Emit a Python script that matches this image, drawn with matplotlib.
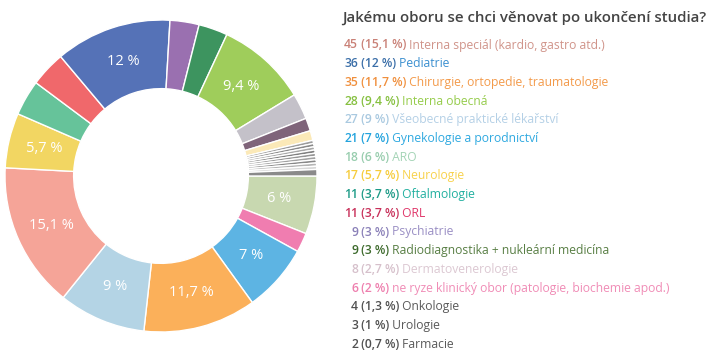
import numpy as np
import matplotlib
matplotlib.use("Agg")
import matplotlib.pyplot as plt

plt.rcParams['font.family'] = ['Open Sans', 'DejaVu Sans']

# legend order (sorted by count)
names = ["Interna speciál (kardio, gastro atd.)", "Pediatrie",
         "Chirurgie, ortopedie, traumatologie", "Interna obecná",
         "Všeobecné praktické lékařství", "Gynekologie a porodnictví", "ARO",
         "Neurologie", "Oftalmologie", "ORL", "Psychiatrie",
         "Radiodiagnostika + nukleární medicína", "Dermatovenerologie",
         "ne ryze klinický obor (patologie, biochemie apod.)", "Onkologie",
         "Urologie", "Farmacie"]
counts = [45, 36, 35, 28, 27, 21, 18, 17, 11, 11, 9, 9, 8, 6, 4, 3, 2]
num_colors = ["#c98076", "#3a6ea8", "#f08f3c", "#86c040", "#a9c9e0", "#23a3dd",
              "#98cdae", "#f6cc3c", "#1c9a86", "#c8305a", "#8a80b8", "#3d6a2c",
              "#d6c0cb", "#ee7fae", "#505050", "#505050", "#505050"]
lab_colors = ["#d0948a", "#3a8fd0", "#f39a4a", "#96cc4c", "#b4d0e6", "#2fa9e0",
              "#a4d4b6", "#f8d24c", "#22b0a0", "#e0376a", "#9a8fc4", "#587e44",
              "#dcc8d2", "#f08cb6", "#5a5a5a", "#5a5a5a", "#5a5a5a"]
slice_colors = ["#f5a498", "#5572b7", "#fbb05a", "#9fcd5b", "#b4d4e5", "#5db4e3",
                "#c8d8b0", "#f2d662", "#66c39a", "#f0686b", "#9a70b0", "#3d945f",
                "#c4c1c9", "#f07db0", "#7f647a", "#fbe9b8", "#8a8a8a"]

# clockwise order of slices starting at 3 o'clock
pie_order = ["ARO", "ne ryze klinický obor (patologie, biochemie apod.)",
             "Gynekologie a porodnictví", "Chirurgie, ortopedie, traumatologie",
             "Všeobecné praktické lékařství", "Interna speciál (kardio, gastro atd.)",
             "Neurologie", "Oftalmologie", "ORL", "Pediatrie", "Psychiatrie",
             "Radiodiagnostika + nukleární medicína", "Interna obecná",
             "Dermatovenerologie", "Onkologie", "Urologie"]
# unnamed small answers (grey strips), then Farmacie last
other_counts = [1, 1, 1, 1, 1, 1, 1, 1, 1]
other_colors = ["#9c9c9c", "#8a8a8a", "#a8a8a8", "#808080", "#969696",
                "#a2a2a2", "#888888", "#b4b4b4", "#d8d8d8"]

total = sum(counts) + sum(other_counts)


def fmt(c):
    s = "%.1f" % (c * 100.0 / total + 1e-9)
    if s.endswith(".0"):
        s = s[:-2]
    return s.replace(".", ",") + " %"


sizes = [counts[names.index(n)] for n in pie_order] + other_counts + [counts[names.index("Farmacie")]]
cols = [slice_colors[names.index(n)] for n in pie_order] + other_colors + [slice_colors[names.index("Farmacie")]]

W, H = 712, 355
fig = plt.figure(figsize=(W / 100, H / 100), dpi=100)

cx, cy, R = 161, 176, 156
ax = fig.add_axes([(cx - R) / W, (H - cy - R) / H, 2 * R / W, 2 * R / H])
wedges, _ = ax.pie(sizes, colors=cols, startangle=0, counterclock=False, radius=1,
                   wedgeprops=dict(width=0.44, edgecolor="white", linewidth=1.0))
ax.set_xlim(-1, 1)
ax.set_ylim(-1, 1)
ax.set_aspect("equal")
ax.axis("off")

for w, s in zip(wedges, sizes):
    if s * 100.0 / total < 5:
        continue
    a = np.deg2rad((w.theta1 + w.theta2) / 2)
    ax.text(0.77 * np.cos(a), 0.77 * np.sin(a), fmt(s), ha="center", va="center",
            color="white", fontsize=10.5)

# title + legend on an overlay axes in pixel coords
ov = fig.add_axes([0, 0, 1, 1])
ov.set_xlim(0, W)
ov.set_ylim(H, 0)
ov.axis("off")

ov.text(342, 18, "Jakému oboru se chci věnovat po ukončení studia?", ha="left", va="center",
        fontsize=10.8, weight="semibold", color="#444444")

y0, dy = 45, 18.7
for i, (n, c) in enumerate(zip(names, counts)):
    y = y0 + i * dy
    t1 = ov.text(358, y, str(c), ha="right", va="center", fontsize=8.7,
                 weight="semibold", color=num_colors[i])
    t2 = ov.annotate(" (" + fmt(c) + ")", xy=(1, 0), xycoords=t1, ha="left", va="bottom",
                     fontsize=8.7, weight="semibold", color=num_colors[i])
    ov.annotate(" " + n, xy=(1, 0), xycoords=t2, ha="left", va="bottom",
                fontsize=8.7, color=lab_colors[i])

fig.savefig("out.png", dpi=100)
